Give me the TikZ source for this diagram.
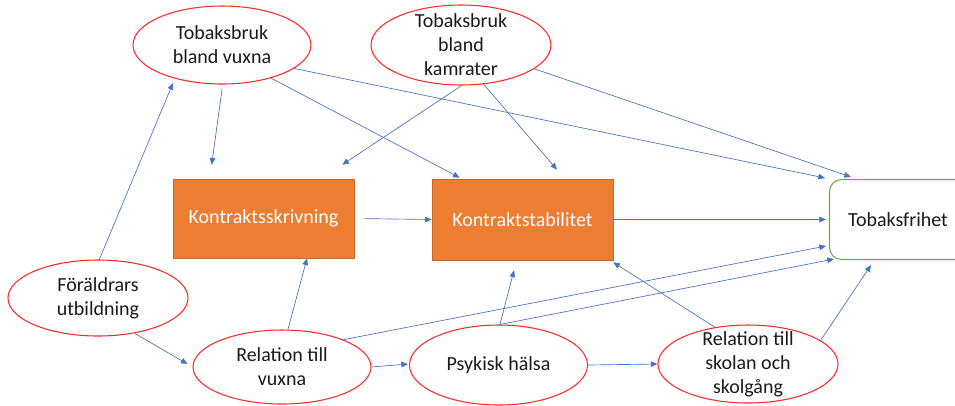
\documentclass[tikz,border=0pt]{standalone}
\usepackage{fontspec}
\setmainfont{Carlito}
\usetikzlibrary{shapes.geometric,arrows.meta,calc}
\definecolor{ellred}{HTML}{FF2A2A}
\definecolor{arrblue}{HTML}{4472C4}
\definecolor{boxorange}{HTML}{ED7D31}
\definecolor{boxedge}{HTML}{C8692A}
\definecolor{tfgreen}{HTML}{70AD47}
\definecolor{txtcol}{HTML}{1A1A1A}
\begin{document}
\begin{tikzpicture}[x=0.75pt,y=-0.75pt,
  font=\fontsize{15}{18}\selectfont,
  ell/.style={ellipse, draw=ellred, line width=0.8pt, fill=white, inner sep=0pt},
  obox/.style={rectangle, draw=boxedge, line width=0.5pt, fill=boxorange, inner sep=0pt, text=white},
  gbox/.style={rectangle, rounded corners=9pt, draw=tfgreen, line width=0.8pt, fill=white, inner sep=0pt, text=txtcol},
  lab/.style={align=center, text=txtcol, font=\fontsize{15}{18}\selectfont},
  arr/.style={draw=arrblue, line width=0.5pt, -{Triangle[length=5pt,width=4.2pt]}}
]
\clip (0,0) rectangle (955,405);
\fill[white] (0,0) rectangle (955,405);

% nodes
\node[ell, minimum width=133.5pt, minimum height=58.5pt,
  label={[lab]center:Tobaksbruk\\bland vuxna}] (fv) at (222,45) {};
\node[ell, minimum width=135pt, minimum height=60pt,
  label={[lab]center:Tobaksbruk\\bland\\kamrater}] (fk) at (461,45) {};
\node[ell, minimum width=135pt, minimum height=57pt,
  label={[lab]center:Föräldrars\\utbildning}] (fu) at (98,298) {};
\node[ell, minimum width=133.5pt, minimum height=55.5pt,
  label={[lab]center:Relation till\\vuxna}] (rv) at (282,367) {};
\node[ell, minimum width=133.5pt, minimum height=60pt,
  label={[lab]center:Psykisk hälsa}] (ph) at (498.5,365) {};
\node[ell, minimum width=135pt, minimum height=58.5pt,
  label={[lab]center:Relation till\\skolan och\\skolgång}] (sk) at (748,364) {};

\node[obox, minimum width=135.75pt, minimum height=59.25pt] (ks) at (263.5,218.5) {Kontraktsskrivning};
\node[obox, minimum width=135.75pt, minimum height=60.75pt] (kst) at (522.5,219.5) {Kontraktstabilitet};
\node[gbox, minimum width=102.75pt, minimum height=60pt] (tf) at (898,219.5) {Tobaksfrihet};

% connectors
\draw[arr, shorten <=3pt] (fv.-89) -- ($(ks.north west)+(39,-14)$);
\draw[arr] (fv.-34) -- ($(kst.north west)+(28,-1)$);
\draw[arr] (fv.-18) -- ($(tf.north west)+(-4,-1)$);
\draw[arr] (fk.-89) -- ($(ks.north east)+(-12,-14)$);
\draw[arr] (fk.-60) -- ($(kst.north)+(34.5,-9)$);
\draw[arr] (fk.-18) -- ($(tf.north west)+(22,-2)$);
\draw[arr] (fu.88) -- ($(fv.center)+(-49,38)$);
\draw[arr] (fu.-44) -- ($(rv.west)+(-5,-3)$);
\draw[arr, shorten <=7pt] (ks.east) -- (kst.west);
\draw[arr] (kst.east) -- ($(tf.west)+(-3,0)$);
\draw[arr] (rv.81) -- ($(ks.south)+(43.5,0)$);
\draw[arr] (rv.east) -- ($(ph.west)+(-1,-1)$);
\draw[arr] (rv.24) -- ($(tf.south west)+(-3,-14)$);
\draw[arr] (ph.88) -- ($(kst.south)+(-8.5,10)$);
\draw[arr] (ph.88) -- ($(tf.south west)+(5,-1)$);
\draw[arr] (ph.east) -- (sk.west);
\draw[arr] (sk.132) -- ($(kst.south east)+(0,2)$);
\draw[arr] (sk.18) -- ($(tf.south)+(-27,5)$);
\end{tikzpicture}
\end{document}
